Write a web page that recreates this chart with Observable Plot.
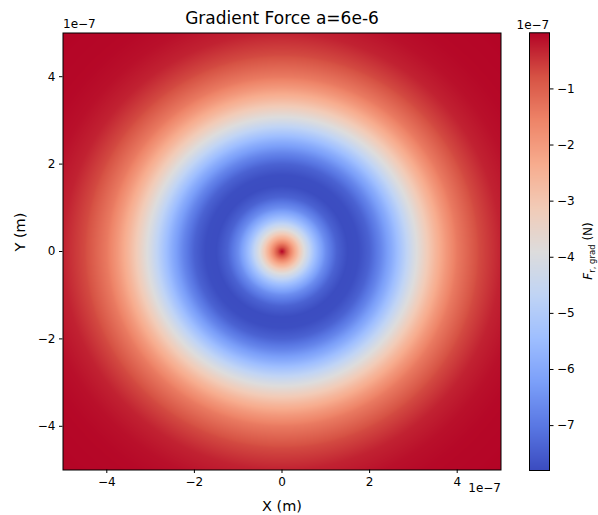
<!DOCTYPE html>
<html><head><meta charset="utf-8">
<script src="https://cdn.jsdelivr.net/npm/d3@7"></script>
<script src="https://cdn.jsdelivr.net/npm/@observablehq/plot@0.6"></script>
<style>
body{margin:0;background:#fff;}
#chart{position:relative;width:598px;height:515px;background:#fff;}
#chart svg{position:absolute;top:0;}
</style></head><body><div id="chart"></div>
<script>
// Radial profile of the gradient force (r in 1e-7 m, F in 1e-7 N)
const radius = [0, 0.25, 0.5, 0.75, 1.0, 1.25, 1.5, 1.75, 2.0, 2.25, 2.5, 2.75, 3.0, 3.25, 3.5, 3.75, 4.0, 4.5, 5.0, 5.5, 6.0, 7.1];
const force  = [0, -2.0, -3.85, -5.4, -6.6, -7.4, -7.79, -7.76, -7.4, -6.75, -5.95, -5.05, -4.15, -3.35, -2.6, -1.95, -1.4, -0.7, -0.3, -0.12, -0.04, 0];
const xTicks = [-4, -2, 0, 2, 4];
const yTicks = [-4, -2, 0, 2, 4];
const cbTicks = [-1, -2, -3, -4, -5, -6, -7];
const axisExtent = [-5, 5];
const forceDomain = [-7.8, 0];
const coolwarm = ["#3b4cc0", "#5977e3", "#7b9ff9", "#9ebeff", "#c0d4f5", "#dddcdc", "#f2cbb7", "#f7ac8e", "#ee8468", "#d65244", "#b40426"];
const titleText = "Gradient Force a=6e-6";
const xLabel = "X (m)";
const yLabel = "Y (m)";
const offsetText = "1e\u22127";

const E = 1e-7;
const fmt = d => d3.format("d")(Math.round(d / E));
const interp = d3.piecewise(d3.interpolateRgb, coolwarm);
function forceAt(r) {
  const i = d3.bisectRight(radius, r);
  if (i <= 0) return force[0];
  if (i >= radius.length) return force[force.length - 1];
  const t = (r - radius[i - 1]) / (radius[i] - radius[i - 1]);
  return force[i - 1] + t * (force[i] - force[i - 1]);
}
const font = "DejaVu Sans, sans-serif";

const main = Plot.plot({
  width: 510, height: 515,
  marginLeft: 62.5, marginRight: 9.5, marginTop: 32.5, marginBottom: 45.5,
  style: {fontFamily: font, fontSize: "12px", color: "#000", background: "transparent"},
  x: {domain: axisExtent.map(v => v * E)},
  y: {domain: axisExtent.map(v => v * E)},
  color: {type: "linear", domain: forceDomain, interpolate: interp},
  marks: [
    Plot.raster({
      x1: axisExtent[0] * E, x2: axisExtent[1] * E, y1: axisExtent[0] * E, y2: axisExtent[1] * E,
      fill: (x, y) => forceAt(Math.hypot(x, y) / E), pixelSize: 1
    }),
    Plot.frame({stroke: "#000", strokeWidth: 1}),
    Plot.axisX({ticks: xTicks.map(v => v * E), tickFormat: fmt, tickSize: 3.5, tickPadding: 4, label: null, fontSize: 12}),
    Plot.axisY({ticks: yTicks.map(v => v * E), tickFormat: fmt, tickSize: 3.5, tickPadding: 4, label: null, fontSize: 12}),
    Plot.text([titleText], {frameAnchor: "top", lineAnchor: "middle", dy: -14, fontSize: 17}),
    Plot.text([xLabel], {frameAnchor: "bottom", lineAnchor: "middle", dy: 36, fontSize: 14.5}),
    Plot.text([yLabel], {frameAnchor: "left", lineAnchor: "middle", dx: -43, rotate: -90, fontSize: 14.5}),
    Plot.text([offsetText], {frameAnchor: "top-left", textAnchor: "start", lineAnchor: "middle", dy: -8.5, fontSize: 12}),
    Plot.text([offsetText], {frameAnchor: "bottom-right", textAnchor: "end", lineAnchor: "middle", dy: 18, fontSize: 12})
  ]
});
main.style.left = "0px";

const cb = Plot.plot({
  width: 93, height: 515,
  marginLeft: 24, marginRight: 49, marginTop: 32.3, marginBottom: 45,
  style: {fontFamily: font, fontSize: "12px", color: "#000", background: "transparent"},
  x: {domain: [0, 1], axis: null},
  y: {domain: forceDomain},
  color: {type: "linear", domain: forceDomain, interpolate: interp},
  marks: [
    Plot.raster({x1: 0, x2: 1, y1: forceDomain[0], y2: forceDomain[1], fill: (x, y) => y, pixelSize: 1}),
    Plot.frame({stroke: "#000", strokeWidth: 1}),
    Plot.axisY({anchor: "right", ticks: cbTicks, tickFormat: d3.format("d"), tickSize: 3.5, tickPadding: 4, label: null, fontSize: 12}),
    Plot.text([offsetText], {frameAnchor: "top-left", textAnchor: "start", lineAnchor: "middle", dx: -13, dy: -7.5, fontSize: 12})
  ]
});
cb.style.left = "505px";

const cbSel = d3.select(cb);
const lab = cbSel.append("text")
  .attr("transform", "translate(87,251) rotate(-90)")
  .attr("text-anchor", "middle")
  .attr("font-family", font)
  .attr("font-size", 12)
  .attr("fill", "#000");
lab.append("tspan").attr("font-style", "italic").text("F");
lab.append("tspan").attr("font-size", 8.5).attr("dy", 2.5).text("r, grad");
lab.append("tspan").attr("dy", -2.5).text(" (N)");

document.getElementById("chart").append(main, cb);
</script></body></html>
